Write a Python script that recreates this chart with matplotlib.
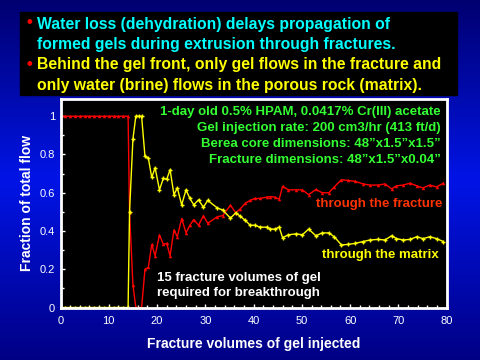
import numpy as np
import matplotlib
matplotlib.use("Agg")
from matplotlib import pyplot as plt
from matplotlib.colors import LinearSegmentedColormap
from matplotlib.patches import Rectangle

plt.rcParams['font.family'] = ['Liberation Sans', 'DejaVu Sans']

# fracture volumes injected (x) and fraction of total flow
pv = [0, 1, 2, 3, 4, 5, 6, 7, 8, 9, 10, 11, 12, 13, 14,
      14.3, 15.0, 15.6, 16.2, 16.8, 17.5, 18.2, 18.9, 19.6, 20.5,
      21.3, 22.0, 22.7, 23.5, 24.2, 25.1, 26.0, 26.8, 27.6, 28.6,
      29.6, 30.5, 32.5, 33.6, 35.2, 36.3, 37.2, 38.3, 39.3, 40.3,
      41.3, 42.7, 43.5, 44.4, 45.3, 46.0, 47.2, 48.8, 50.1, 51.4,
      52.9, 54.2, 55.6, 56.7, 58.2, 59.6, 61.0, 62.7, 64.1, 65.8,
      67.2, 68.6, 69.6, 71.0, 72.4, 73.8, 75.1, 76.5, 77.9, 79.3]
fracture = [1, 1, 1, 1, 1, 1, 1, 1, 1, 1, 1, 1, 1, 1, 1,
            0.50, 0.12, 0.0, 0.0, 0.0, 0.20, 0.21, 0.33, 0.27, 0.38,
            0.33, 0.335, 0.27, 0.405, 0.37, 0.465, 0.39, 0.43, 0.46, 0.43,
            0.48, 0.44, 0.475, 0.48, 0.535, 0.495, 0.515, 0.545, 0.56, 0.57,
            0.57, 0.577, 0.58, 0.577, 0.566, 0.633, 0.615, 0.615, 0.615, 0.59,
            0.617, 0.60, 0.60, 0.63, 0.668, 0.664, 0.66, 0.646, 0.64, 0.64,
            0.646, 0.62, 0.636, 0.64, 0.65, 0.636, 0.625, 0.64, 0.63, 0.65]
matrix = [0, 0, 0, 0, 0, 0, 0, 0, 0, 0, 0, 0, 0, 0, 0,
          0.50, 0.88, 1.0, 1.0, 1.0, 0.79, 0.78, 0.68, 0.73, 0.615,
          0.675, 0.67, 0.72, 0.59, 0.625, 0.537, 0.615, 0.57, 0.537, 0.563,
          0.524, 0.56, 0.52, 0.51, 0.467, 0.495, 0.478, 0.455, 0.43, 0.43,
          0.42, 0.42, 0.41, 0.41, 0.42, 0.365, 0.38, 0.385, 0.38, 0.41,
          0.375, 0.39, 0.39, 0.37, 0.327, 0.33, 0.335, 0.345, 0.353, 0.356,
          0.353, 0.375, 0.36, 0.353, 0.356, 0.37, 0.36, 0.37, 0.36, 0.345]

bullets = [("Water loss (dehydration) delays propagation of\nformed gels during extrusion through fractures.", "#00FFFF"),
           ("Behind the gel front, only gel flows in the fracture and\nonly water (brine) flows in the porous rock (matrix).", "#FFFF00")]
conditions = ["1-day old 0.5% HPAM, 0.0417% Cr(III) acetate",
              "Gel injection rate: 200 cm3/hr (413 ft/d)",
              "Berea core dimensions: 48\u201dx1.5\u201dx1.5\u201d",
              "Fracture dimensions: 48\u201dx1.5\u201dx0.04\u201d"]

fig = plt.figure(figsize=(4.8, 3.6), dpi=100)

# blue slide background
bg = fig.add_axes([0, 0, 1, 1], zorder=-10)
cmap = LinearSegmentedColormap.from_list("slide", [(0, "#000070"), (0.5, "#0014E6"), (1, "#000085")])
bg.imshow(np.linspace(0, 1, 256).reshape(-1, 1), aspect='auto', cmap=cmap, extent=[0, 1, 0, 1])
bg.set_xlim(0, 1)
bg.set_ylim(0, 1)
bg.axis('off')

# header box
bg.add_patch(Rectangle((20 / 480, 1 - 95 / 360), 437 / 480, 83 / 360, color='black', transform=bg.transAxes))
ys = [24, 65]
for (txt, col), y in zip(bullets, ys):
    fig.text(29 / 480, 1 - (y - 1) / 360, "\u2022", color='red', fontsize=12, fontweight='bold', va='center', ha='center')
    for j, line in enumerate(txt.split('\n')):
        fig.text(37 / 480, 1 - (y + 20.5 * j) / 360, line, color=col, fontsize=11.3, fontweight='bold',
                 va='center', ha='left')

ax = fig.add_axes([60.5 / 480, 1 - 307.5 / 360, 386.2 / 480, 208.5 / 360])
ax.set_facecolor('black')
ax.plot(pv, fracture, color='red', lw=1, marker='^', ms=2.5, mew=0)
ax.plot(pv, matrix, color='yellow', lw=1, marker='+', ms=3, mew=1)
ax.set_xlim(0, 80)
ax.set_ylim(0, 1.09)
ax.set_xticks(range(0, 81, 10))
ax.set_xticks(range(0, 81, 2), minor=True)
ax.set_yticks([0, 0.2, 0.4, 0.6, 0.8, 1.0])
ax.set_yticklabels(['0', '0.2', '0.4', '0.6', '0.8', '1'])
ax.set_yticks(np.arange(0, 1.05, 0.1), minor=True)
ax.tick_params(which='both', direction='in', colors='white', labelsize=8, width=1)
ax.tick_params(which='major', length=3, pad=6)
ax.tick_params(which='minor', length=2)
ax.tick_params(axis='y', pad=4)
for s in ax.spines.values():
    s.set_color('white')
    s.set_linewidth(2)
ax.set_xlabel('Fracture volumes of gel injected', color='white', fontsize=10, fontweight='bold', labelpad=8)
ax.set_ylabel('Fraction of total flow', color='white', fontsize=10, fontweight='bold', labelpad=4)

for i, line in enumerate(conditions):
    ax.text(0.985, 0.94 - i * 0.078, line, transform=ax.transAxes, color='#33FF33', fontsize=9.5,
            fontweight='bold', ha='right', va='center')
ax.text(0.99, 0.497, 'through the fracture', transform=ax.transAxes, color='#FF3300', fontsize=9.5,
        fontweight='bold', ha='right', va='center')
ax.text(0.98, 0.25, 'through the matrix', transform=ax.transAxes, color='#FFFF00', fontsize=9.5,
        fontweight='bold', ha='right', va='center')
ax.text(0.25, 0.105, '15 fracture volumes of gel\nrequired for breakthrough', transform=ax.transAxes,
        color='white', fontsize=9.5, fontweight='bold', ha='left', va='center', linespacing=1.25)

fig.savefig('out.png', dpi=100)
